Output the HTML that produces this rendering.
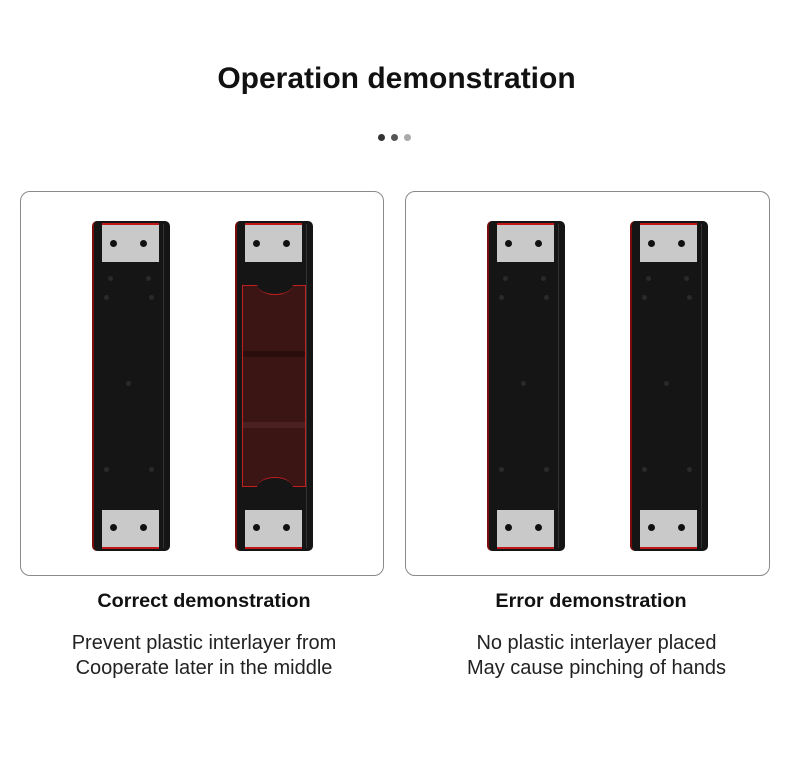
<!DOCTYPE html>
<html><head><style>
body{margin:0;width:790px;height:768px;background:#fff;position:relative;font-family:"Liberation Sans",sans-serif;overflow:hidden}
.a{position:absolute}
.panel{position:absolute;top:191px;height:385px;border:1px solid #8a8a8a;border-radius:10px;box-sizing:border-box}
.bar{position:absolute;top:221px;width:76px;height:330px;background:#151515;border-radius:5px;border-left:2px solid #7a0c0c}
.bar::after{content:"";position:absolute;right:6px;top:3px;bottom:3px;width:1px;background:#333}
.pl{position:absolute;left:8px;width:57px;height:37px;background:#c9c9c9;border-top:2px solid #c01818}
.pl.b{border-top:none;border-bottom:2px solid #c01818}
.h{position:absolute;width:7px;height:7px;border-radius:50%;background:#111}
.d{position:absolute;width:5px;height:5px;border-radius:50%;background:#2a2a2a}
.t{position:absolute;text-align:center;color:#111;white-space:nowrap}
</style></head><body>
<div class="t" style="left:0;width:793px;top:62px;font-size:30px;font-weight:bold">Operation demonstration</div>
<div class="a" style="left:378px;top:134px;width:7px;height:7px;border-radius:50%;background:#333"></div>
<div class="a" style="left:391px;top:134px;width:7px;height:7px;border-radius:50%;background:#555"></div>
<div class="a" style="left:404px;top:134px;width:7px;height:7px;border-radius:50%;background:#aaa"></div>
<div class="panel" style="left:20px;width:364px"></div>
<div class="panel" style="left:405px;width:365px"></div>

<div class="bar" style="left:92px">
 <div class="pl" style="top:2px"><div class="h" style="left:8px;top:15px"></div><div class="h" style="left:38px;top:15px"></div></div>
 <div class="d" style="left:14px;top:55px"></div><div class="d" style="left:52px;top:55px"></div>
 <div class="d" style="left:10px;top:74px"></div><div class="d" style="left:55px;top:74px"></div>
 <div class="d" style="left:32px;top:160px"></div>
 <div class="d" style="left:10px;top:246px"></div><div class="d" style="left:55px;top:246px"></div>
 <div class="pl b" style="top:289px"><div class="h" style="left:8px;top:14px"></div><div class="h" style="left:38px;top:14px"></div></div>
</div>
<div class="bar" style="left:235px">
 <div class="pl" style="top:2px"><div class="h" style="left:8px;top:15px"></div><div class="h" style="left:38px;top:15px"></div></div>
 <div class="a" style="left:5px;top:64px;width:64px;height:202px;background:#3a1514;border:1px solid #c02020;box-sizing:border-box">
  <div class="a" style="left:0;right:0;top:65px;height:6px;background:#2a0e0e"></div>
  <div class="a" style="left:0;right:0;top:136px;height:6px;background:#4a2020"></div>
  <div class="a" style="left:14px;top:-12px;width:36px;height:20px;border-radius:50%;background:#151515;border-bottom:1px solid #c02020"></div>
  <div class="a" style="left:14px;bottom:-12px;width:36px;height:20px;border-radius:50%;background:#151515;border-top:1px solid #c02020"></div>
 </div>
 <div class="pl b" style="top:289px"><div class="h" style="left:8px;top:14px"></div><div class="h" style="left:38px;top:14px"></div></div>
</div>
<div class="bar" style="left:487px">
 <div class="pl" style="top:2px"><div class="h" style="left:8px;top:15px"></div><div class="h" style="left:38px;top:15px"></div></div>
 <div class="d" style="left:14px;top:55px"></div><div class="d" style="left:52px;top:55px"></div>
 <div class="d" style="left:10px;top:74px"></div><div class="d" style="left:55px;top:74px"></div>
 <div class="d" style="left:32px;top:160px"></div>
 <div class="d" style="left:10px;top:246px"></div><div class="d" style="left:55px;top:246px"></div>
 <div class="pl b" style="top:289px"><div class="h" style="left:8px;top:14px"></div><div class="h" style="left:38px;top:14px"></div></div>
</div>
<div class="bar" style="left:630px">
 <div class="pl" style="top:2px"><div class="h" style="left:8px;top:15px"></div><div class="h" style="left:38px;top:15px"></div></div>
 <div class="d" style="left:14px;top:55px"></div><div class="d" style="left:52px;top:55px"></div>
 <div class="d" style="left:10px;top:74px"></div><div class="d" style="left:55px;top:74px"></div>
 <div class="d" style="left:32px;top:160px"></div>
 <div class="d" style="left:10px;top:246px"></div><div class="d" style="left:55px;top:246px"></div>
 <div class="pl b" style="top:289px"><div class="h" style="left:8px;top:14px"></div><div class="h" style="left:38px;top:14px"></div></div>
</div>

<div class="t" style="left:20px;width:368px;top:590px;font-size:19.8px;font-weight:bold">Correct demonstration</div>
<div class="t" style="left:405px;width:372px;top:590px;font-size:19.8px;font-weight:bold">Error demonstration</div>
<div class="t" style="left:20px;width:368px;top:631px;font-size:20px;line-height:25px;color:#222">Prevent plastic interlayer from<br>Cooperate later in the middle</div>
<div class="t" style="left:405px;width:383px;top:631px;font-size:20px;line-height:25px;color:#222">No plastic interlayer placed<br>May cause pinching of hands</div>
</body></html>
